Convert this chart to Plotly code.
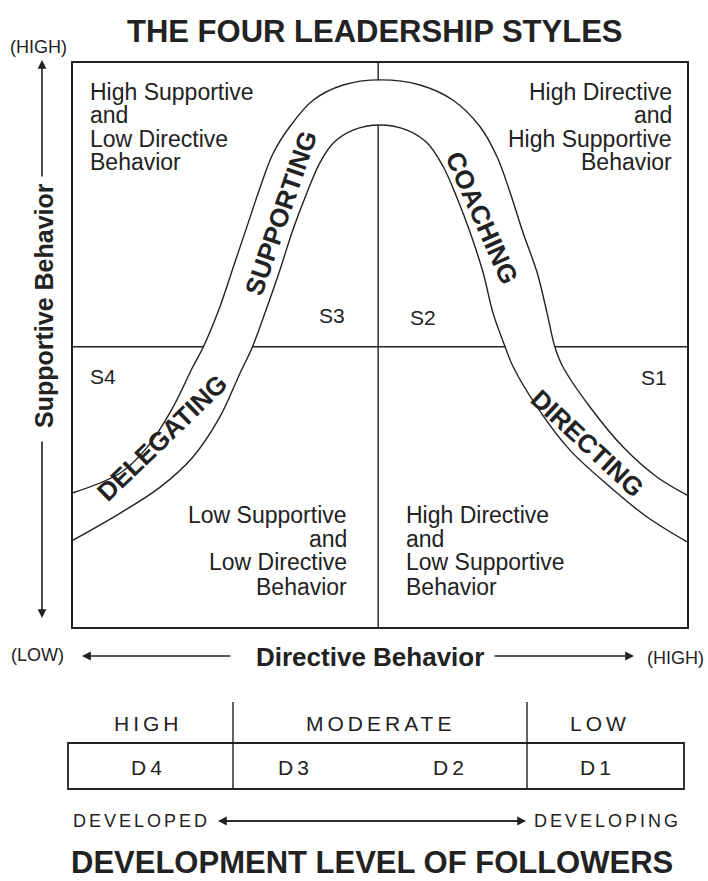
import plotly.graph_objects as go

# ---------------- data ----------------
title_top = "THE FOUR LEADERSHIP STYLES"
title_bottom = "DEVELOPMENT LEVEL OF FOLLOWERS"
x_axis_label = "Directive Behavior"
y_axis_label = "Supportive Behavior"

style_names = ["SUPPORTING", "COACHING", "DELEGATING", "DIRECTING"]
style_codes = ["S3", "S2", "S4", "S1"]
quadrant_text = [
    ["High Supportive", "and", "Low Directive", "Behavior"],
    ["High Directive", "and", "High Supportive", "Behavior"],
    ["Low Supportive", "and", "Low Directive", "Behavior"],
    ["High Directive", "and", "Low Supportive", "Behavior"],
]
dev_levels = ["HIGH", "MODERATE", "LOW"]
dev_codes = ["D4", "D3", "D2", "D1"]

# directive (0-10) / supportive (0-10) coordinates of the curved band
outer_x = [0, 0.77, 1.21, 1.63, 1.95, 2.12, 2.39, 2.61, 2.83, 3.05, 3.26, 3.53, 3.91, 4.40, 5.00,
           5.65, 6.19, 6.63, 6.91, 7.12, 7.33, 7.56, 7.72, 7.85, 7.98, 8.42, 8.96, 9.51, 10.0]
outer_y = [2.38, 2.73, 3.19, 3.90, 4.61, 4.96, 5.67, 6.38, 7.09, 7.80, 8.40, 8.87, 9.34, 9.61, 9.70,
           9.61, 9.34, 8.87, 8.33, 7.70, 6.99, 6.28, 5.57, 4.96, 4.61, 3.90, 3.19, 2.66, 2.34]
inner_x = [0, 0.77, 1.42, 1.95, 2.39, 2.72, 2.92, 3.16, 3.37, 3.58, 3.81, 4.02, 4.24, 4.56, 5.00,
           5.44, 5.77, 6.03, 6.25, 6.47, 6.68, 6.84, 7.04, 7.17, 7.56, 8.09, 8.75, 9.35, 10.0]
inner_y = [1.54, 2.02, 2.48, 3.01, 3.72, 4.50, 4.96, 5.67, 6.33, 7.04, 7.70, 8.23, 8.58, 8.81, 8.90,
           8.81, 8.58, 8.16, 7.62, 6.99, 6.28, 5.57, 4.96, 4.61, 3.90, 3.14, 2.48, 1.95, 1.51]
mid_directive = 4.97
mid_supportive = 4.97

# ---------------- layout helpers ----------------
W, H = 708, 881
L, R, T, B = 73, 687, 63, 627
INK = "#222222"
FONT = "Liberation Sans, Arial, Helvetica, sans-serif"


def px(x):
    return (x - L) / (R - L)


def py(y):
    return (B - y) / (B - T)


annotations = []


def ann(text, x, y, size, bold=False, xanchor="center", angle=0, spacing=None, color=INK):
    t = text
    if spacing:
        t = '<span style="letter-spacing:%spx">%s</span>' % (spacing, t)
    if bold:
        t = "<b>" + t + "</b>"
    annotations.append(dict(
        text=t, x=px(x), y=py(y), xref="paper", yref="paper",
        xanchor=xanchor, yanchor="middle", showarrow=False, textangle=angle,
        font=dict(family=FONT, size=size, color=color), borderpad=0,
    ))


def arrow(x0, y0, x1, y1):
    annotations.append(dict(
        text="", x=px(x1), y=py(y1), xref="paper", yref="paper",
        ax=x0 - x1, ay=y0 - y1, axref="pixel", ayref="pixel",
        showarrow=True, arrowhead=2, arrowsize=1.1, arrowwidth=1.6,
        arrowcolor=INK, standoff=0, startstandoff=0,
    ))


fig = go.Figure()

# white band between the curves
fig.add_trace(go.Scatter(
    x=outer_x + inner_x[::-1], y=outer_y + inner_y[::-1],
    fill="toself", fillcolor="white", mode="lines", line=dict(width=0),
    hoverinfo="skip", showlegend=False,
))
for cx, cy in [(outer_x, outer_y), (inner_x, inner_y)]:
    fig.add_trace(go.Scatter(
        x=cx, y=cy, mode="lines", line=dict(color=INK, width=1.4, shape="spline", smoothing=1.0),
        hoverinfo="skip", showlegend=False,
    ))

shapes = [
    dict(type="line", xref="x", yref="y", x0=mid_directive, x1=mid_directive, y0=0, y1=10,
         line=dict(color=INK, width=1.4), layer="below"),
    dict(type="line", xref="x", yref="y", x0=0, x1=10, y0=mid_supportive, y1=mid_supportive,
         line=dict(color=INK, width=1.4), layer="below"),
    # development table
    dict(type="rect", xref="paper", yref="paper", x0=px(68), x1=px(684), y0=py(789), y1=py(743),
         line=dict(color=INK, width=1.8)),
    dict(type="line", xref="paper", yref="paper", x0=px(233), x1=px(233), y0=py(702), y1=py(789),
         line=dict(color=INK, width=1.4)),
    dict(type="line", xref="paper", yref="paper", x0=px(527), x1=px(527), y0=py(702), y1=py(789),
         line=dict(color=INK, width=1.4)),
]

# titles
ann(title_top, 375, 32, 31, bold=True)
ann(title_bottom, 372, 862, 31, bold=True)

# axis labels + arrows
ann(y_axis_label, 44, 306, 25, bold=True, angle=-90)
arrow(42, 178, 42, 60)
arrow(42, 440, 42, 618)
ann("(HIGH)", 38, 47, 18)
ann(x_axis_label, 370, 657, 26, bold=True)
arrow(232, 656, 82, 656)
arrow(493, 656, 634, 656)
ann("(LOW)", 37, 655, 18)
ann("(HIGH)", 675, 658, 18)

# quadrant descriptions (one line each)
line_y_top = [92, 115, 139, 162]
line_y_bot = [515, 539, 562, 587]
for i, s in enumerate(quadrant_text[0]):
    ann(s, 89, line_y_top[i], 23, xanchor="left")
for i, s in enumerate(quadrant_text[1]):
    ann(s, 673, line_y_top[i], 23, xanchor="right")
for i, s in enumerate(quadrant_text[2]):
    ann(s, 348, line_y_bot[i], 23, xanchor="right")
for i, s in enumerate(quadrant_text[3]):
    ann(s, 405, line_y_bot[i], 23, xanchor="left")

# style codes
ann(style_codes[0], 332, 315, 21)
ann(style_codes[1], 423, 317, 21)
ann(style_codes[2], 103, 376, 21)
ann(style_codes[3], 654, 377, 21)

# style names on the band
ann(style_names[0], 281, 213, 26, bold=True, angle=-71)
ann(style_names[1], 482, 218, 26, bold=True, angle=66)
ann(style_names[2], 162, 438, 26, bold=True, angle=-44)
ann(style_names[3], 587, 443, 26, bold=True, angle=43)

# development table text
ann(dev_levels[0], 148, 723, 21, spacing=4)
ann(dev_levels[1], 380, 723, 21, spacing=4)
ann(dev_levels[2], 600, 723, 21, spacing=4)
for xc, code in zip([148, 295, 450, 597], dev_codes):
    ann(code, xc, 767, 21, spacing=4)
ann("DEVELOPED", 141, 821, 18, spacing=3)
ann("DEVELOPING", 607, 821, 18, spacing=3)
arrow(218, 821, 526, 821)
arrow(526, 821, 218, 821)

fig.update_layout(
    width=W, height=H,
    margin=dict(l=L, r=W - R, t=T, b=H - B),
    paper_bgcolor="white", plot_bgcolor="white",
    showlegend=False,
    xaxis=dict(range=[0, 10], showgrid=False, zeroline=False, showticklabels=False, ticks="",
               showline=True, mirror=True, linecolor=INK, linewidth=2, fixedrange=True),
    yaxis=dict(range=[0, 10], showgrid=False, zeroline=False, showticklabels=False, ticks="",
               showline=True, mirror=True, linecolor=INK, linewidth=2, fixedrange=True),
    shapes=shapes,
    annotations=annotations,
)

fig.write_html(
    "out.html",
    config={"displayModeBar": False},
    post_script="document.body.style.margin='0px';document.body.style.overflow='hidden';",
)
